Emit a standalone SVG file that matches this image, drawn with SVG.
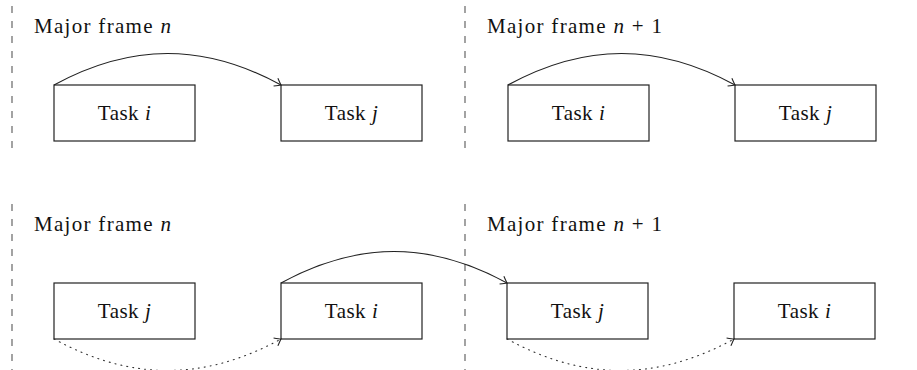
<svg xmlns="http://www.w3.org/2000/svg" width="917" height="370" viewBox="0 0 917 370">
  <style>
    .box { fill: #ffffff; stroke: #222222; stroke-width: 1.2; }
    text { font-family: "Liberation Serif", "DejaVu Serif", serif; font-size: 21px; fill: #111111; }
    .lbl { letter-spacing: 1.3px; }
    .task { text-anchor: middle; letter-spacing: 0.5px; }
    .it { font-style: italic; }
    .sep { stroke: #666666; stroke-width: 1.2; stroke-dasharray: 7 8; fill: none; }
    .edge { fill: none; stroke: #222222; stroke-width: 1.1; }
    .dot { fill: none; stroke: #333333; stroke-width: 1.1; stroke-dasharray: 1 5; stroke-linecap: round; }
  </style>
  <defs>
    <marker id="to" viewBox="-8 -6 10 12" markerWidth="10" markerHeight="12" refX="0" refY="0" orient="auto" markerUnits="userSpaceOnUse">
      <path d="M -6,-4.5 Q -1.5,-1 0,0 Q -1.5,1 -6,4.5" fill="none" stroke="#222222" stroke-width="1.1"/>
    </marker>
  </defs>

  <!-- frame separators -->
  <g id="separators">
    <line class="sep" x1="12" y1="6" x2="12" y2="154"/>
    <line class="sep" x1="465" y1="6" x2="465" y2="154"/>
    <line class="sep" x1="12" y1="204" x2="12" y2="370"/>
    <line class="sep" x1="465" y1="204" x2="465" y2="370"/>
  </g>

  <!-- frame labels -->
  <g id="labels">
    <text class="lbl" x="34" y="33">Major frame <tspan class="it">n</tspan></text>
    <text class="lbl" x="487" y="33">Major frame <tspan class="it">n</tspan> + 1</text>
    <text class="lbl" x="34" y="231">Major frame <tspan class="it">n</tspan></text>
    <text class="lbl" x="487" y="231">Major frame <tspan class="it">n</tspan> + 1</text>
  </g>

  <!-- top row -->
  <g id="top-n-task-i">
    <rect class="box" x="54" y="85" width="141" height="56"/>
    <text class="task" x="124.5" y="120">Task <tspan class="it">i</tspan></text>
  </g>
  <g id="top-n-task-j">
    <rect class="box" x="281" y="85" width="141" height="56"/>
    <text class="task" x="351.5" y="120">Task <tspan class="it">j</tspan></text>
  </g>
  <g id="top-n1-task-i">
    <rect class="box" x="508" y="85" width="141" height="56"/>
    <text class="task" x="578.5" y="120">Task <tspan class="it">i</tspan></text>
  </g>
  <g id="top-n1-task-j">
    <rect class="box" x="735" y="85" width="141" height="56"/>
    <text class="task" x="805.5" y="120">Task <tspan class="it">j</tspan></text>
  </g>

  <!-- bottom row -->
  <g id="bot-n-task-j">
    <rect class="box" x="54" y="283" width="141" height="56"/>
    <text class="task" x="124.5" y="318">Task <tspan class="it">j</tspan></text>
  </g>
  <g id="bot-n-task-i">
    <rect class="box" x="281" y="283" width="141" height="56"/>
    <text class="task" x="351.5" y="318">Task <tspan class="it">i</tspan></text>
  </g>
  <g id="bot-n1-task-j">
    <rect class="box" x="507" y="283" width="141" height="56"/>
    <text class="task" x="577.5" y="318">Task <tspan class="it">j</tspan></text>
  </g>
  <g id="bot-n1-task-i">
    <rect class="box" x="734" y="283" width="141" height="56"/>
    <text class="task" x="804.5" y="318">Task <tspan class="it">i</tspan></text>
  </g>

  <!-- connectors -->
  <g id="connectors">
    <path class="edge" d="M 54,85 C 131,43 204,43 281,85" marker-end="url(#to)"/>
    <path class="edge" d="M 508,85 C 585,43 658,43 735,85" marker-end="url(#to)"/>
    <path class="edge" d="M 281,283 C 358,241 430,241 507,283" marker-end="url(#to)"/>
    <path class="dot" d="M 54,339 C 131,381 204,381 281,339" marker-end="url(#to)"/>
    <path class="dot" d="M 507,339 C 584,381 657,381 734,339" marker-end="url(#to)"/>
  </g>
</svg>
